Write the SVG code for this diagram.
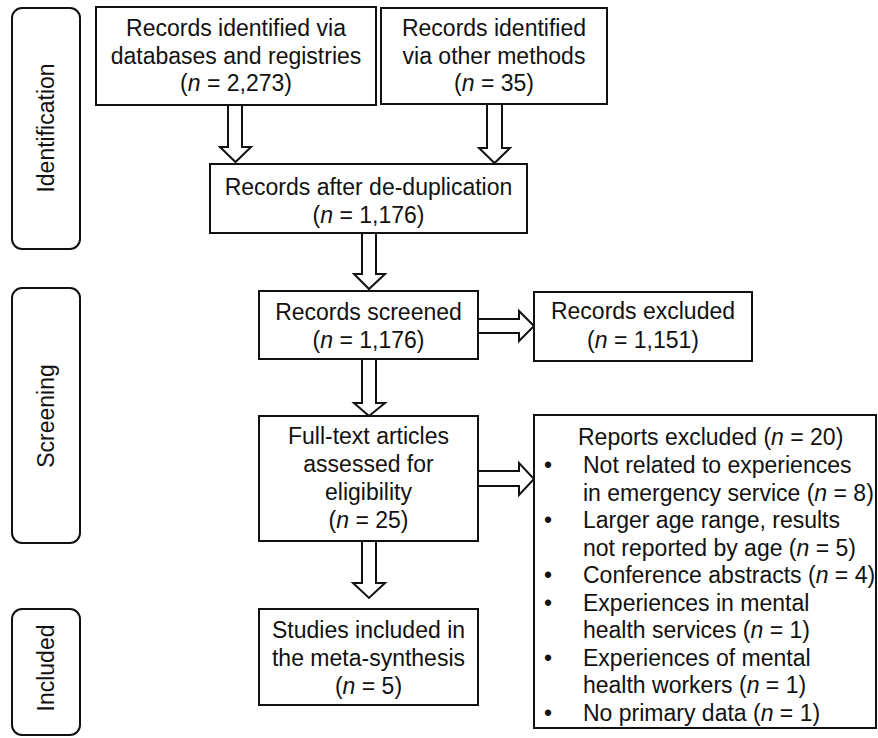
<svg xmlns="http://www.w3.org/2000/svg" width="878" height="738" viewBox="0 0 878 738">
<style>
text{font-family:"Liberation Sans",Arial,sans-serif;font-size:23px;fill:#111}
.c{text-anchor:middle}
.box{fill:#fff;stroke:#111;stroke-width:2}
.side{fill:#fff;stroke:#111;stroke-width:2}
.arr{fill:#fff;stroke:#111;stroke-width:2;stroke-linejoin:miter}
.i{font-style:italic}
</style>
<rect width="878" height="738" fill="#fff"/>
<g id="connectors">
<polygon class="arr" points="228,105 242,105 242,147 251,147 235.5,162 220,147 228,147"/>
<polygon class="arr" points="487,104 502,104 502,148 510,148 494.5,163 479,148 487,148"/>
<polygon class="arr" points="362,233 376,233 376,274 385,274 369,289 354,274 362,274"/>
<polygon class="arr" points="362,359 376,359 376,403 385,403 369,416 354,403 362,403"/>
<polygon class="arr" points="362,541 376,541 376,583 385,583 369,598 353,583 362,583"/>
<polygon class="arr" points="478,319 519,319 519,311 534,326 519,341 519,333 478,333"/>
<polygon class="arr" points="478,471 519,471 519,463 534,479 519,495 519,486 478,486"/>
</g>
<g id="stage-identification">
<rect class="side" x="12" y="8" width="68" height="241" rx="10"/>
<text class="c" transform="translate(54,128) rotate(-90)">Identification</text>
</g>
<g id="stage-screening">
<rect class="side" x="12" y="288" width="68" height="255" rx="10"/>
<text class="c" transform="translate(54,416) rotate(-90)">Screening</text>
</g>
<g id="stage-included">
<rect class="side" x="12" y="609" width="68" height="126" rx="10"/>
<text class="c" transform="translate(54,668) rotate(-90)">Included</text>
</g>
<g id="records-databases">
<rect class="box" x="96" y="7" width="280" height="98"/>
<text class="c" x="236" y="36">Records identified via</text>
<text class="c" x="236" y="63.5">databases and registries</text>
<text class="c" x="236" y="91">(<tspan class="i">n</tspan> = 2,273)</text>
</g>
<g id="records-other">
<rect class="box" x="381" y="8" width="226" height="96"/>
<text class="c" x="494" y="36">Records identified</text>
<text class="c" x="494" y="63.5">via other methods</text>
<text class="c" x="494" y="91">(<tspan class="i">n</tspan> = 35)</text>
</g>
<g id="records-dedup">
<rect class="box" x="210" y="164" width="317" height="69"/>
<text class="c" x="368.5" y="195">Records after de-duplication</text>
<text class="c" x="368.5" y="222.5">(<tspan class="i">n</tspan> = 1,176)</text>
</g>
<g id="records-screened">
<rect class="box" x="259" y="291" width="219" height="68"/>
<text class="c" x="368.5" y="320">Records screened</text>
<text class="c" x="368.5" y="348">(<tspan class="i">n</tspan> = 1,176)</text>
</g>
<g id="records-excluded">
<rect class="box" x="534" y="292" width="218" height="69"/>
<text class="c" x="643" y="319">Records excluded</text>
<text class="c" x="643" y="347.5">(<tspan class="i">n</tspan> = 1,151)</text>
</g>
<g id="full-text">
<rect class="box" x="259" y="416" width="219" height="125"/>
<text class="c" x="368.5" y="444">Full-text articles</text>
<text class="c" x="368.5" y="472">assessed for</text>
<text class="c" x="368.5" y="500">eligibility</text>
<text class="c" x="368.5" y="528">(<tspan class="i">n</tspan> = 25)</text>
</g>
<g id="studies-included">
<rect class="box" x="259" y="609" width="219" height="96"/>
<text class="c" x="368.5" y="638">Studies included in</text>
<text class="c" x="368.5" y="666">the meta-synthesis</text>
<text class="c" x="368.5" y="693.5">(<tspan class="i">n</tspan> = 5)</text>
</g>
<g id="reports-excluded">
<rect class="box" x="534" y="415" width="342" height="313"/>
<text x="578" y="445">Reports excluded (<tspan class="i">n</tspan> = 20)</text>
<text class="c" x="548" y="473">•</text>
<text x="583" y="473">Not related to experiences</text>
<text x="583" y="500.5">in emergency service (<tspan class="i">n</tspan> = 8)</text>
<text class="c" x="548" y="528">•</text>
<text x="583" y="528">Larger age range, results</text>
<text x="583" y="556">not reported by age (<tspan class="i">n</tspan> = 5)</text>
<text class="c" x="548" y="583">•</text>
<text x="583" y="583">Conference abstracts (<tspan class="i">n</tspan> = 4)</text>
<text class="c" x="548" y="611">•</text>
<text x="583" y="611">Experiences in mental</text>
<text x="583" y="638">health services (<tspan class="i">n</tspan> = 1)</text>
<text class="c" x="548" y="666">•</text>
<text x="583" y="666">Experiences of mental</text>
<text x="583" y="693">health workers (<tspan class="i">n</tspan> = 1)</text>
<text class="c" x="548" y="721">•</text>
<text x="583" y="721">No primary data (<tspan class="i">n</tspan> = 1)</text>
</g>
</svg>
